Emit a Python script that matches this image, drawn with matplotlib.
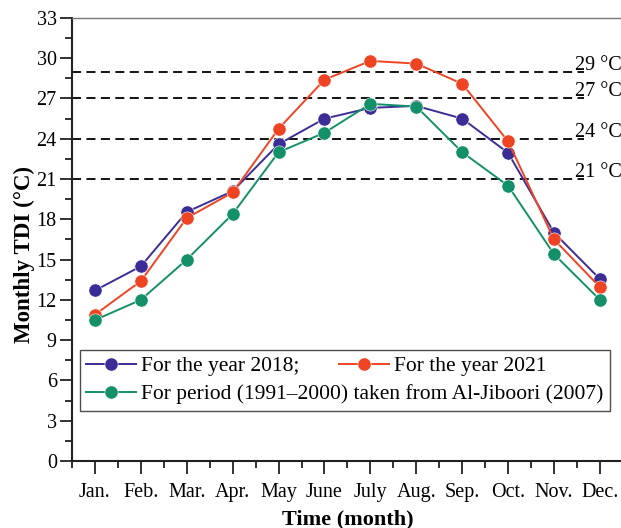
import numpy as np
import matplotlib
matplotlib.use("Agg")
import matplotlib.pyplot as plt
from matplotlib.ticker import MultipleLocator

plt.rcParams['font.family'] = ['Liberation Serif', 'DejaVu Serif']

# データ
months = ["Jan.", "Feb.", "Mar.", "Apr.", "May", "June", "July", "Aug.", "Sep.", "Oct.", "Nov.", "Dec."]
tdi_2018 = [12.7, 14.5, 18.55, 20.1, 23.6, 25.5, 26.3, 26.45, 25.5, 22.95, 17.0, 13.55]
tdi_2021 = [10.9, 13.4, 18.1, 20.0, 24.75, 28.4, 29.8, 29.6, 28.1, 23.8, 16.5, 12.95]
tdi_1991_2000 = [10.5, 12.0, 15.0, 18.4, 23.0, 24.45, 26.6, 26.4, 23.0, 20.5, 15.4, 12.0]
thresholds = [29, 27, 24, 21]
threshold_labels = ["29 °C", "27 °C", "24 °C", "21 °C"]

x = np.arange(1, len(months) + 1)

fig = plt.figure(figsize=(6.21, 5.28), dpi=100)
ax = fig.add_axes([0.116, 0.127, 0.887, 0.839])

c_blue = "#3a2e96"
c_red = "#ef4424"
c_green = "#13906a"

# しきい値の破線
for t, lab in zip(thresholds, threshold_labels):
    ax.plot([0.5, 11.65], [t, t], color="black", ls=(0, (5, 3)), lw=1.3, zorder=1)
    ax.text(11.45, t + 0.15, lab, fontsize=14.5, va="baseline", ha="left", zorder=2)

l1, = ax.plot(x, tdi_2018, "-o", color=c_blue, lw=1.4, ms=9.5, mec="white", mew=0.4,
              label="For the year 2018;", zorder=3)
l2, = ax.plot(x, tdi_2021, "-o", color=c_red, lw=1.4, ms=9.5, mec="white", mew=0.4,
              label="For the year 2021", zorder=4)
l3, = ax.plot(x, tdi_1991_2000, "-o", color=c_green, lw=1.4, ms=9.5, mec="white", mew=0.4,
              label="For period (1991\u20132000) taken from Al-Jiboori (2007)", zorder=5)

ax.set_xlim(0.5, 12.5)
ax.set_ylim(0, 33)
ax.set_xticks(x)
ax.set_xticklabels(months)
ax.xaxis.set_minor_locator(MultipleLocator(0.5))
ax.yaxis.set_major_locator(MultipleLocator(3))
ax.yaxis.set_minor_locator(MultipleLocator(1.5))
ax.tick_params(axis="both", which="major", direction="out", length=9, width=1.3,
               labelsize=14.5, color="#222222")
ax.tick_params(axis="both", which="minor", direction="out", length=5, width=1.3, color="#222222")
ax.tick_params(axis="x", pad=7)
ax.tick_params(axis="y", pad=2)
for s in ["left", "bottom"]:
    ax.spines[s].set_linewidth(1.5)
    ax.spines[s].set_color("#222222")
ax.spines["top"].set_linewidth(1.0)
ax.spines["top"].set_color("#777777")

ax.set_xlabel("Time (month)", fontsize=16, fontweight="bold", labelpad=5)
ax.set_ylabel("Monthly TDI (°C)", fontsize=16.5, fontweight="bold")
ax.yaxis.set_label_coords(-0.068, 0.465)

# 凡例（2段組）
leg_kw = dict(fontsize=15.5, borderaxespad=0, handlelength=2.3, handletextpad=0.25,
              borderpad=0.3, labelspacing=0.35)
leg1 = ax.legend(handles=[l1, l3], loc="upper left", bbox_to_anchor=(0.0145, 0.2506),
                 frameon=True, fancybox=False, edgecolor="#222222", **leg_kw)
leg1.get_frame().set_linewidth(1.0)
ax.add_artist(leg1)
leg2 = ax.legend(handles=[l2], loc="upper left", bbox_to_anchor=(0.473, 0.2506),
                 frameon=False, **leg_kw)

plt.savefig("out.png", dpi=100)
